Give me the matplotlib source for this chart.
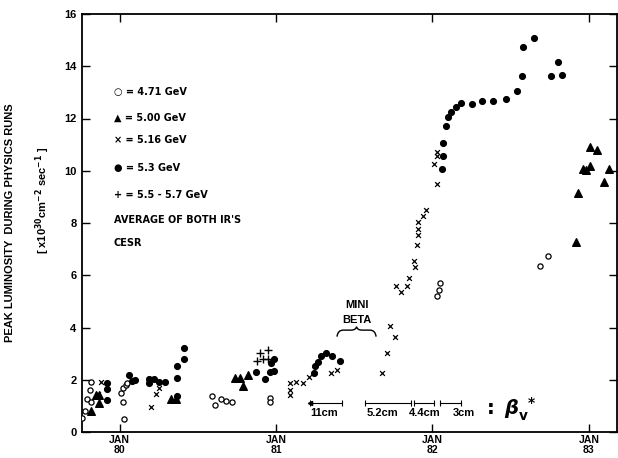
import numpy as np
import matplotlib
matplotlib.use("Agg")
import matplotlib.pyplot as plt
from matplotlib.path import Path
from matplotlib.patches import PathPatch

plt.rcParams['font.family'] = ['Liberation Sans', 'DejaVu Sans']
plt.rcParams['font.weight'] = 'bold'

# ---- data: decimal year vs peak luminosity (x10^30 cm^-2 s^-1) ----
# 4.71 GeV (open circles)
e471_year = [79.76, 79.78, 79.79, 79.82, 79.81, 79.82, 80.01, 80.02, 80.04, 80.05,
             80.02, 80.03, 80.59, 80.61, 80.65, 80.68, 80.72, 80.96, 80.96,
             82.03, 82.04, 82.05, 82.69, 82.74]
e471_lum = [0.52, 0.80, 1.25, 1.14, 1.61, 1.90, 1.51, 1.67, 1.80, 1.89,
            1.14, 0.50, 1.39, 1.05, 1.28, 1.20, 1.15, 1.31, 1.15,
            5.21, 5.44, 5.72, 6.37, 6.72]

# 5.00 GeV (filled triangles)
e500_year = [79.82, 79.87, 79.85, 79.87, 80.33, 80.36, 80.74, 80.77, 80.82, 80.79,
             82.92, 82.93, 82.96, 82.98, 83.01, 83.01, 83.05, 83.10, 83.13]
e500_lum = [0.82, 1.12, 1.42, 1.42, 1.25, 1.25, 2.08, 2.08, 2.18, 1.77,
            7.29, 9.15, 10.08, 10.01, 10.17, 10.89, 10.80, 9.57, 10.07]

# 5.16 GeV (crosses)
e516_year = [79.86, 79.88, 80.20, 80.23, 80.25, 81.09, 81.09, 81.09, 81.13, 81.17,
             81.21, 81.35, 81.39, 81.68, 81.71, 81.73, 81.76, 81.77, 81.80, 81.84,
             81.85, 81.88, 81.89, 81.90, 81.91, 81.91, 81.91, 81.94, 81.96, 82.03,
             82.01, 82.03, 82.03]
e516_lum = [1.45, 1.90, 0.97, 1.46, 1.67, 1.42, 1.61, 1.89, 1.93, 1.89,
            2.10, 2.25, 2.38, 2.27, 3.01, 4.07, 3.63, 5.57, 5.34, 5.57,
            5.90, 6.53, 6.31, 7.16, 7.55, 7.77, 8.02, 8.28, 8.51, 9.50,
            10.27, 10.55, 10.70]

# 5.3 GeV (filled circles)
e53_year = [79.92, 79.92, 79.92, 80.06, 80.08, 80.10, 80.19, 80.22, 80.25, 80.29,
            80.19, 80.37, 80.37, 80.37, 80.41, 80.41, 80.87, 80.93, 80.96, 80.99,
            80.97, 80.99, 81.24, 81.25, 81.27, 81.29, 81.32, 81.36, 81.41, 82.06,
            82.07, 82.07, 82.09, 82.10, 82.12, 82.15, 82.18, 82.25, 82.32, 82.39,
            82.47, 82.54, 82.57, 82.58, 82.65, 82.76, 82.80, 82.83]
e53_lum = [1.87, 1.65, 1.23, 2.18, 1.97, 1.99, 2.02, 2.02, 1.93, 1.93,
           1.86, 1.38, 2.06, 2.54, 2.78, 3.21, 2.29, 2.04, 2.31, 2.35,
           2.66, 2.81, 2.24, 2.53, 2.69, 2.91, 3.01, 2.90, 2.70, 10.08,
           10.55, 11.06, 11.70, 12.04, 12.24, 12.44, 12.58, 12.57, 12.66, 12.66,
           12.74, 13.04, 13.64, 14.72, 15.08, 13.64, 14.16, 13.67]

# 5.5 - 5.7 GeV (plus)
e55_year = [80.88, 80.90, 80.92, 80.95, 80.95]
e55_lum = [2.72, 3.04, 2.80, 3.14, 2.79]

# beta* periods
beta_labels = ['11cm', '5.2cm', '4.4cm', '3cm']
beta_start = [81.22, 81.57, 81.88, 82.05]
beta_end = [81.42, 81.86, 82.01, 82.18]
beta_label_x = [81.31, 81.68, 81.95, 82.20]

year_ticks = [80, 81, 82, 83]
year_labels = ['JAN\n80', 'JAN\n81', 'JAN\n82', 'JAN\n83']
lum_ticks = [0, 2, 4, 6, 8, 10, 12, 14, 16]


fig = plt.figure(figsize=(6.18, 4.58), dpi=100)
ax = fig.add_axes([82/618, 26/458, 535/618, 418/458])

ax.scatter(e471_year, e471_lum, s=14, facecolors='white', edgecolors='k', linewidths=0.9, zorder=3)
ax.scatter(e500_year, e500_lum, s=30, marker='^', color='k', zorder=3)
ax.scatter(e516_year, e516_lum, s=12, marker='x', color='k', linewidths=0.9, zorder=3)
ax.scatter(e53_year, e53_lum, s=17, marker='o', color='k', zorder=3)
ax.scatter(e55_year, e55_lum, s=30, marker='+', color='k', linewidths=1.0, zorder=3)

# beta* interval bars
ybar = 1.12
for lab, x0, x1, xl in zip(beta_labels, beta_start, beta_end, beta_label_x):
    ax.plot([x0, x1], [ybar, ybar], color='k', lw=0.8)
    ax.plot([x0, x1], [ybar, ybar], ls='none', marker='|', ms=4, color='k', mew=0.8)
    ax.text(xl, 0.72, lab, ha='center', va='center', fontsize=8)
ax.plot([beta_start[0]], [ybar], marker='<', ms=3, color='k')
ax.text(82.32, 0.86, r'$:\ \beta_{\mathrm{v}}^{\ *}$', fontsize=14, ha='left', va='center')

# mini beta brace
bx0, bx1, bm = 81.39, 81.64, 81.515
verts = [(bx0, 3.65), (bx0 + 0.005, 3.90), (bx0 + 0.04, 3.90),
         (bm - 0.035, 3.90),
         (bm - 0.005, 3.90), (bm, 4.03),
         (bm + 0.005, 3.90), (bm + 0.035, 3.90),
         (bx1 - 0.04, 3.90),
         (bx1 - 0.005, 3.90), (bx1, 3.65)]
codes = [Path.MOVETO, Path.CURVE3, Path.CURVE3,
         Path.LINETO,
         Path.CURVE3, Path.CURVE3,
         Path.CURVE3, Path.CURVE3,
         Path.LINETO,
         Path.CURVE3, Path.CURVE3]
ax.add_patch(PathPatch(Path(verts, codes), fill=False, lw=1.0, color='k'))
ax.text(bm, 4.87, 'MINI', ha='center', va='center', fontsize=8)
ax.text(bm, 4.29, 'BETA', ha='center', va='center', fontsize=8)

# legend text block
leg_lines = [u'\u25cb = 4.71 GeV', u'\u25b2 = 5.00 GeV', u'\u00d7 = 5.16 GeV',
             u'\u25cf = 5.3 GeV', '+ = 5.5 - 5.7 GeV', "AVERAGE OF BOTH IR'S", 'CESR']
leg_y = [92, 118, 140, 168, 195, 220, 243]
for t, yp in zip(leg_lines, leg_y):
    fig.text(114/618, 1 - yp/458, t, fontsize=7, ha='left', va='center',
             family=['DejaVu Sans'])

ax.set_xlim(79.76, 83.18)
ax.set_ylim(0, 16)
ax.set_xticks(year_ticks)
ax.set_xticklabels(year_labels, fontsize=7.5, linespacing=0.95)
ax.set_yticks(lum_ticks)
ax.set_yticklabels([str(v) for v in lum_ticks], fontsize=8)
ax.tick_params(direction='in', length=6, width=1.0, top=True, right=True, pad=4)
ax.tick_params(axis='x', pad=2.5)
for sp in ax.spines.values():
    sp.set_linewidth(1.3)

fig.text(10/618, 1 - 223/458, 'PEAK LUMINOSITY  DURING PHYSICS RUNS', rotation=90,
         ha='center', va='center', fontsize=8)
fig.text(43/618, 1 - 200/458, r'[ x10$^{30}$cm$^{-2}$ sec$^{-1}$ ]', rotation=90,
         ha='center', va='center', fontsize=8)

fig.savefig('out.png', dpi=100)
